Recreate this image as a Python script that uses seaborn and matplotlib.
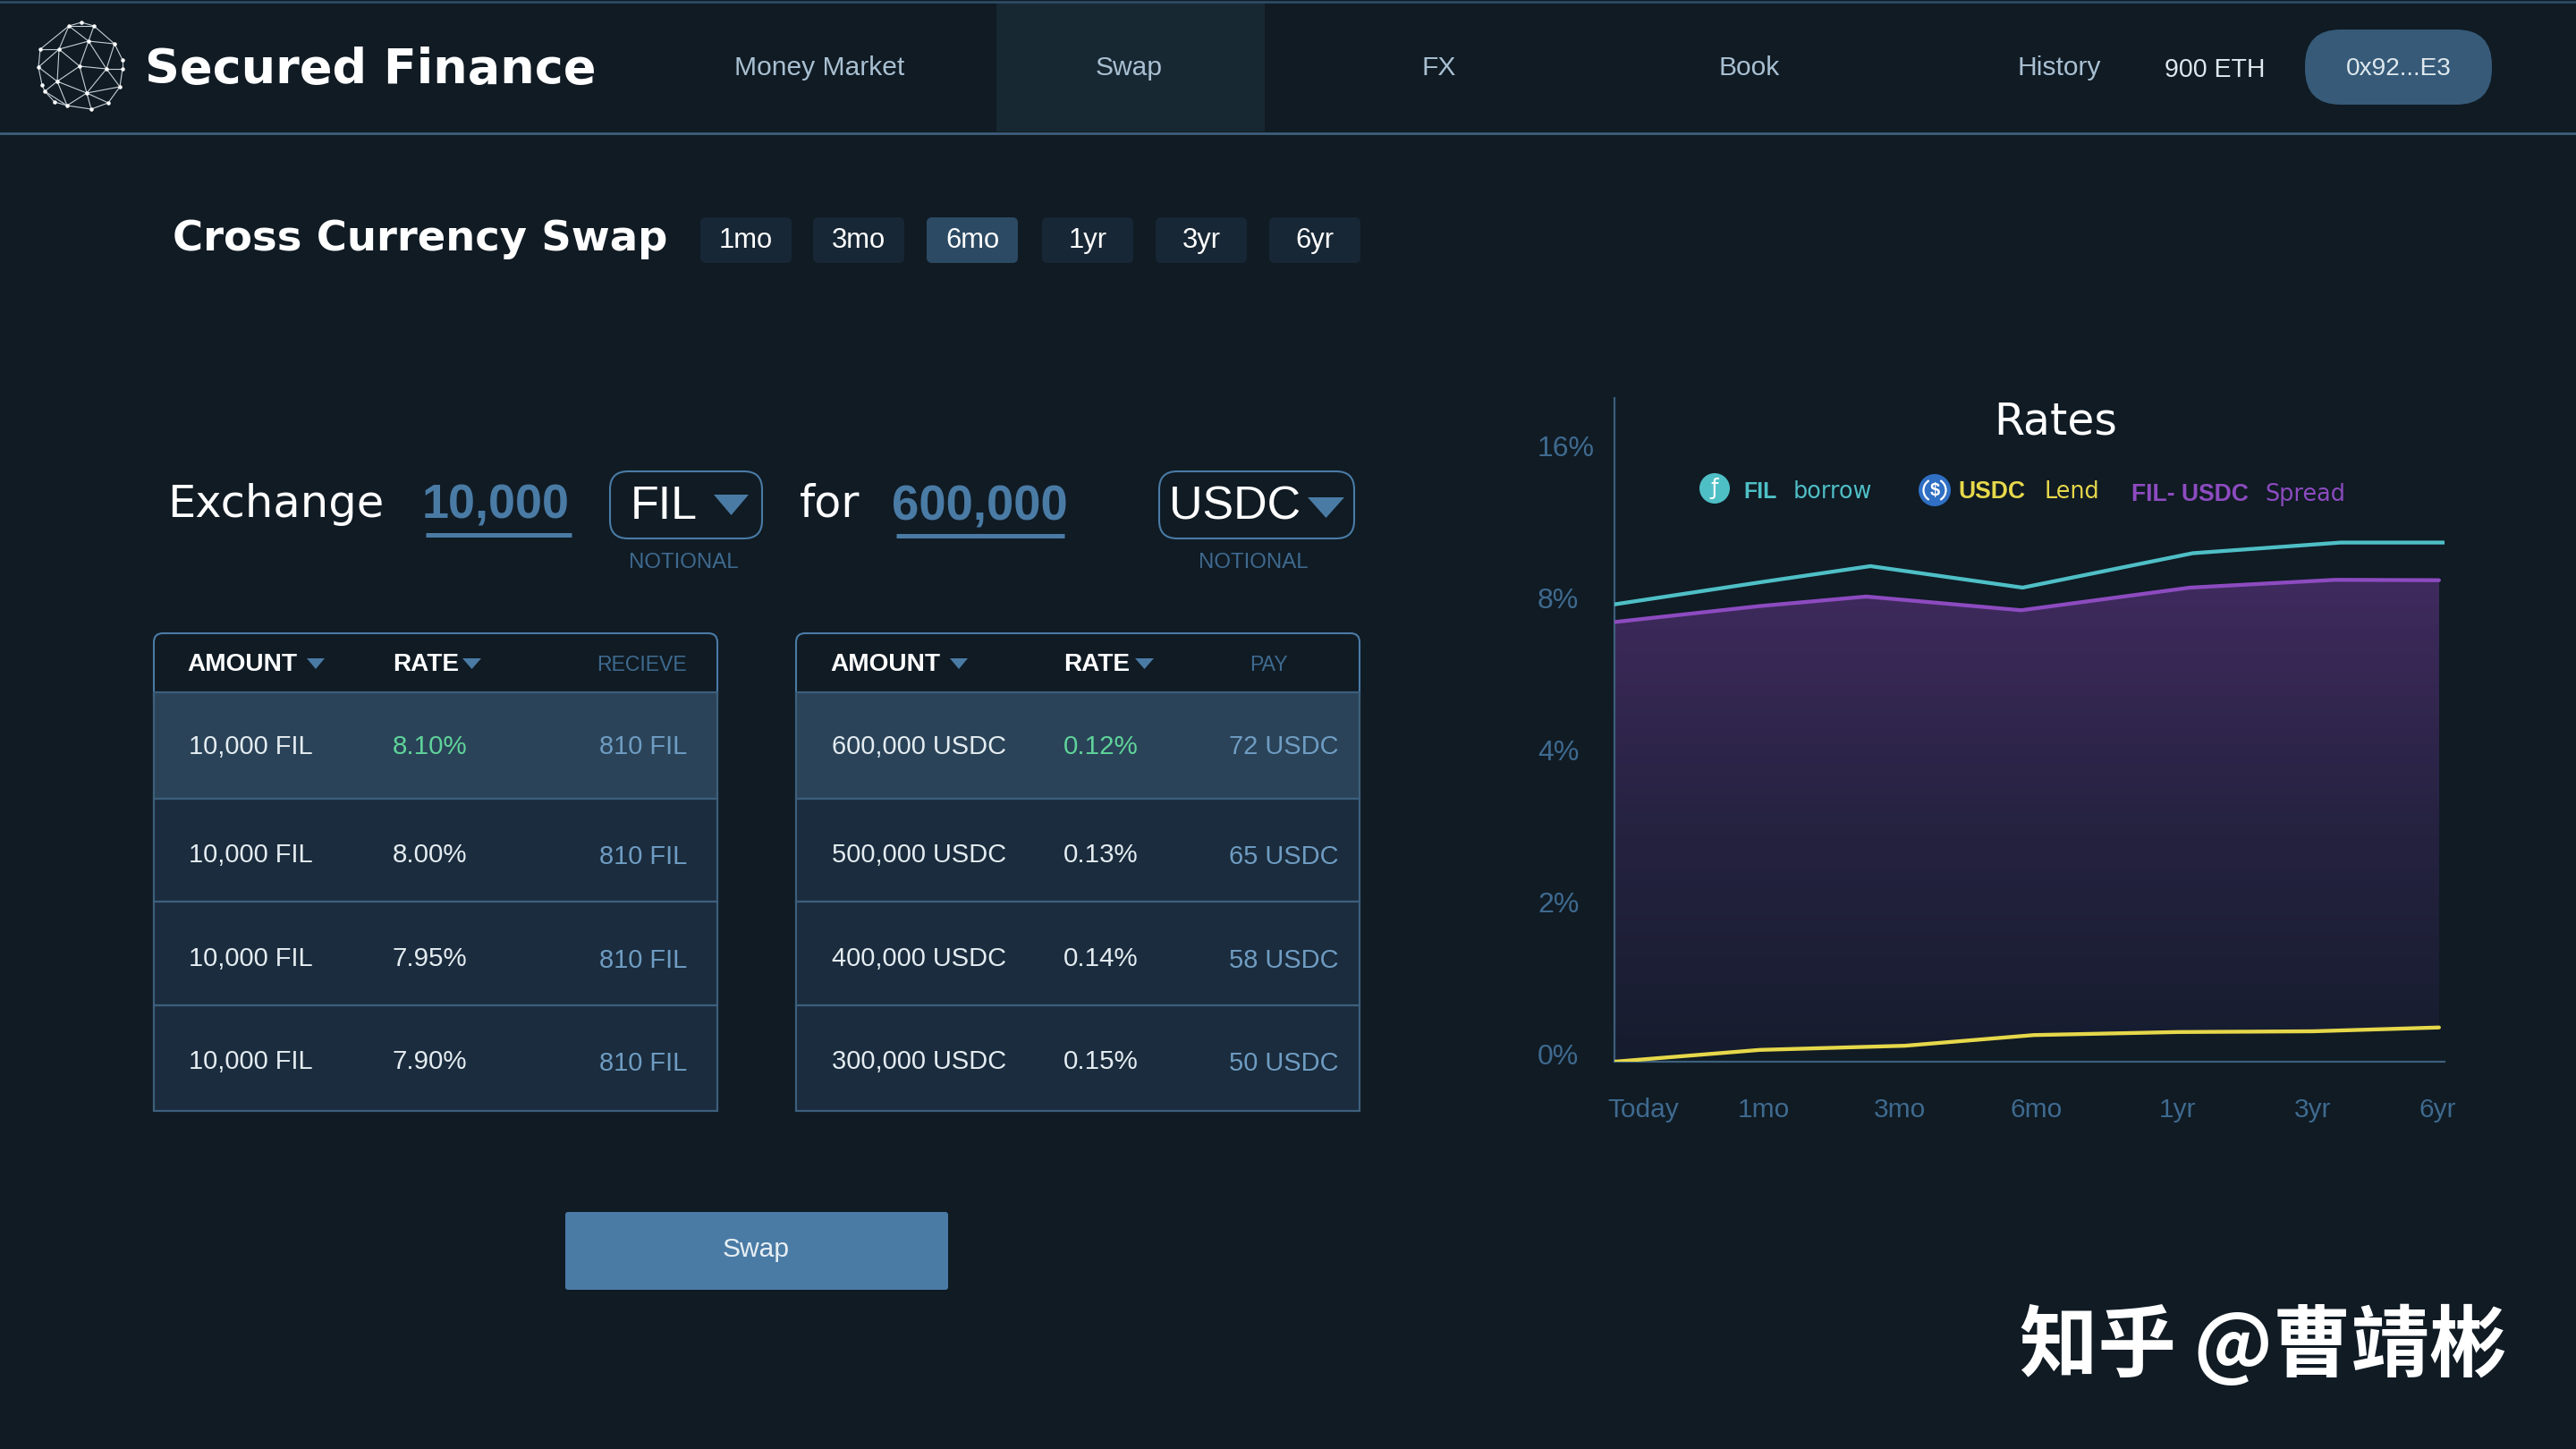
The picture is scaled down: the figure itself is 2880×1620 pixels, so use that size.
import numpy as np
import pandas as pd
import matplotlib
matplotlib.use("Agg")
import matplotlib.pyplot as plt
import seaborn as sns
from matplotlib.colors import LinearSegmentedColormap
from matplotlib.patches import Circle, FancyBboxPatch, Polygon, Rectangle, Arc
from matplotlib.transforms import ScaledTranslation

# rates (%), x is position along the tenor axis
fil_x = [0, 1.08, 1.85, 2.95, 4.18, 5.25, 6.0]
fil_borrow = [8.05, 9.24, 10.06, 8.93, 10.74, 11.3, 11.3]
spread_x = [0, 1.05, 1.82, 2.94, 4.16, 5.21, 5.96]
spread = [7.56, 7.98, 8.46, 7.87, 8.93, 9.34, 9.32]
usdc_x = [0, 1.05, 2.1, 3.03, 4.07, 5.05, 5.96]
usdc_lend = [0.0, 0.155, 0.21, 0.35, 0.39, 0.40, 0.45]

tenor_ticks = [0.21, 1.08, 2.06, 3.05, 4.07, 5.05, 5.95]
tenor_labels = ["Today", "1mo", "3mo", "6mo", "1yr", "3yr", "6yr"]
rate_ticks = [0, 2, 4, 8, 16]
rate_labels = ["0%", "2%", "4%", "8%", "16%"]

nav_items = ["Money Market", "Swap", "FX", "Book", "History"]
periods = ["1mo", "3mo", "6mo", "1yr", "3yr", "6yr"]

left_amount = ["10,000 FIL", "10,000 FIL", "10,000 FIL", "10,000 FIL"]
left_rate = ["8.10%", "8.00%", "7.95%", "7.90%"]
left_recv = ["810 FIL", "810 FIL", "810 FIL", "810 FIL"]
right_amount = ["600,000 USDC", "500,000 USDC", "400,000 USDC", "300,000 USDC"]
right_rate = ["0.12%", "0.13%", "0.14%", "0.15%"]
right_pay = ["72 USDC", "65 USDC", "58 USDC", "50 USDC"]

BG = "#101b24"
BLUE = "#4a7ba5"
DIM = "#3f6a8f"
LINE = "#3d5f7c"
TEAL = "#4fbfc6"
PURPLE = "#8d4bc0"
YELLOW = "#e6d84a"
GREEN = "#5fd39a"
SOFT = "#a9c0d2"

sns.set_theme(style="dark")
plt.rcParams["font.family"] = ["Liberation Sans", "DejaVu Sans"]

fig = plt.figure(figsize=(28.8, 16.2), dpi=100, facecolor=BG)

# whole page, in pixels
ui = fig.add_axes([0, 0, 1, 1])
ui.set_xlim(0, 2880)
ui.set_ylim(1620, 0)
ui.axis("off")


def label(x, y, s, px, color="white", ha="center", weight="normal", family=None):
    kw = {"family": family} if family else {}
    # va center sits a little high against the reference text
    return ui.text(x, y + 3, s, fontsize=px * 0.72, color=color, ha=ha, va="center",
                   weight=weight, **kw)


def box(x0, y0, x1, y1, face, edge="none", lw=0, round_px=0):
    if round_px:
        p = FancyBboxPatch((x0, y0), x1 - x0, y1 - y0,
                           boxstyle=f"round,pad=0,rounding_size={round_px}",
                           facecolor=face, edgecolor=edge, linewidth=lw)
    else:
        p = Rectangle((x0, y0), x1 - x0, y1 - y0, facecolor=face, edgecolor=edge, linewidth=lw)
    ui.add_patch(p)


def tri(x0, x1, y0, y1, color=BLUE):
    ui.add_patch(Polygon([(x0, y0), (x1, y0), ((x0 + x1) / 2, y1)], facecolor=color, edgecolor="none"))


# header
ui.plot([0, 2880], [2, 2], color="#2c4a63", lw=2)
box(1114, 3, 1414, 147, "#182833")
ui.plot([0, 2880], [149, 149], color=LINE, lw=2)

# logo
nodes = [(91, 25), (77, 29), (105, 29), (66, 55), (99, 46), (128, 49), (137, 67), (137, 77),
         (89, 74), (119, 77), (43, 75), (64, 91), (50, 102), (97, 104), (134, 97), (75, 118),
         (102, 122), (121, 115), (61, 114), (45, 55), (47, 95)]
edges = [(0, 1), (0, 2), (1, 2), (1, 3), (2, 4), (1, 4), (4, 5), (2, 5), (5, 6), (6, 7), (3, 4), (3, 8),
         (4, 8), (4, 9), (8, 9), (9, 7), (5, 9), (3, 10), (1, 19), (19, 10), (10, 20), (20, 12), (8, 11),
         (11, 10), (11, 12), (11, 13), (8, 13), (9, 13), (13, 14), (7, 14), (14, 17), (13, 17), (13, 16),
         (16, 17), (15, 16), (12, 15), (18, 15), (12, 18), (11, 15), (13, 15), (3, 19), (3, 11), (9, 14)]
for a, b in edges:
    ui.plot([nodes[a][0], nodes[b][0]], [nodes[a][1], nodes[b][1]], color="#c5cfd6", lw=0.8)
ui.scatter([n[0] for n in nodes], [n[1] for n in nodes], s=5, color="white", zorder=3)

label(162, 75, "Secured Finance", 54, ha="left", weight="bold", family="DejaVu Sans")

for cx, s in zip([916, 1262, 1609, 1956, 2302], nav_items):
    label(cx, 73, s, 30, SOFT)
label(2476, 75, "900 ETH", 28.5, "#dfe8ee")
box(2577, 33, 2786, 117, "#365a78", round_px=40)
label(2682, 74, "0x92...E3", 28, "#dfe8ee")

# title row
label(193, 265, "Cross Currency Swap", 46.5, ha="left", weight="bold", family="DejaVu Sans")
for cx, s in zip([834, 960, 1087, 1216, 1343, 1470], periods):
    box(cx - 51, 243, cx + 51, 294, "#2c4a63" if s == "6mo" else "#172736", round_px=6)
    label(cx, 266, s, 31)

# exchange row
label(187, 561, "Exchange", 49.5, ha="left", family="DejaVu Sans")
label(472, 562, "10,000", 54, BLUE, ha="left", weight="bold")
ui.plot([476, 639], [598, 598], color=BLUE, lw=3.6, solid_capstyle="butt")
box(682, 527, 852, 602, "none", BLUE, 1.5, round_px=20)
label(705, 564, "FIL", 52, ha="left")
tri(798, 837, 553, 576)
label(894, 560, "for", 49, ha="left", family="DejaVu Sans")
label(997, 565, "600,000", 54.5, BLUE, ha="left", weight="bold")
ui.plot([1002, 1190], [599, 599], color=BLUE, lw=3.6, solid_capstyle="butt")
box(1296, 527, 1514, 602, "none", BLUE, 1.5, round_px=20)
label(1307, 564, "USDC", 52, ha="left")
tri(1462, 1503, 556, 579)
label(764, 626, "NOTIONAL", 24, DIM)
label(1401, 626, "NOTIONAL", 24, DIM)

# the two quote tables
row_edges = [774, 893, 1008, 1124, 1242]
row_mids = [832, 953, 1069, 1184]
tables = [
    (172, 802, 209, 439, 768, left_amount, left_rate, left_recv, (343, 363), (517, 538)),
    (890, 1520, 928, 1189, 1497, right_amount, right_rate, right_pay, (1062, 1082), (1269, 1290)),
]
for x0, x1, xa, xr, xp, amounts, rates, pays, tri_a, tri_r in tables:
    box(x0, 708, x1, 790, BG, BLUE, 1.5, round_px=10)
    for i in range(4):
        box(x0, row_edges[i], x1, row_edges[i + 1], "#2a4358" if i == 0 else "#1a2c3d", LINE, 1.6)
        label(xa + 2, row_mids[i], amounts[i], 29, "#e4ecf1", ha="left")
        label(xr, row_mids[i], rates[i], 29.5, GREEN if i == 0 else "#e4ecf1", ha="left")
        label(xp, row_mids[i] + (2 if i else 0), pays[i], 29, "#6f9cc2", ha="right")
    label(xa, 740, "AMOUNT", 28, ha="left", weight="bold")
    label(xr, 740, "RATE", 28, ha="left", weight="bold")
    tri(tri_a[0], tri_a[1], 736, 748)
    tri(tri_r[0], tri_r[1], 736, 748)
label(768, 740, "RECIEVE", 23, DIM, ha="right")
label(1418, 740, "PAY", 23, DIM)

# swap button
box(632, 1355, 1060, 1442, BLUE, round_px=3)
label(845, 1394, "Swap", 30, "#e8eff4")

# rates chart, the y axis doubles at every gridstep
ax = fig.add_axes([1805 / 2880, (1620 - 1187) / 1620, 928 / 2880, 742 / 1620])
ax.patch.set_alpha(0)
y_vals = [0, 2, 4, 8, 16, 32]
y_pos = [0, 1, 2, 3, 4, 5]
ax.set_yscale("function", functions=(lambda v: np.interp(v, y_vals, y_pos),
                                     lambda p: np.interp(p, y_pos, y_vals)))

df_fil = pd.DataFrame({"tenor": fil_x, "rate": fil_borrow})
df_spread = pd.DataFrame({"tenor": spread_x, "rate": spread})
df_usdc = pd.DataFrame({"tenor": usdc_x, "rate": usdc_lend})

# gradient under the spread line, clipped to the band between the two series
grad = LinearSegmentedColormap.from_list("band", ["#151c2d", "#262241", "#3f2a5e"])
band_y = np.interp(np.linspace(0, 3.2, 81), y_pos, y_vals)
mesh = ax.pcolormesh([0, 6], band_y, np.linspace(0, 1, 80).reshape(-1, 1), cmap=grad, shading="flat", zorder=1)
outline = list(zip(spread_x, spread)) + list(zip(usdc_x, usdc_lend))[::-1]
band = Polygon(outline, closed=True, transform=ax.transData, facecolor="none", edgecolor="none")
ax.add_patch(band)
mesh.set_clip_path(band)

sns.lineplot(data=df_fil, x="tenor", y="rate", color=TEAL, linewidth=3.1, ax=ax, zorder=3, estimator=None)
sns.lineplot(data=df_spread, x="tenor", y="rate", color=PURPLE, linewidth=3.1, ax=ax, zorder=3, estimator=None)
sns.lineplot(data=df_usdc, x="tenor", y="rate", color=YELLOW, linewidth=3.1, ax=ax, zorder=4, estimator=None)

ax.set_xlim(0, 6)
ax.set_ylim(0, 21.8)
ax.set_xlabel("")
ax.set_ylabel("")
ax.grid(False)
for side in ["top", "right"]:
    ax.spines[side].set_visible(False)
for side in ["left", "bottom"]:
    ax.spines[side].set_color(LINE)
    ax.spines[side].set_linewidth(1.6)
ax.set_xticks(tenor_ticks, tenor_labels)
ax.set_yticks(rate_ticks, rate_labels)
ax.minorticks_off()
ax.tick_params(axis="x", length=0, pad=29, labelsize=21.5, labelcolor=DIM)
ax.tick_params(axis="y", length=0, pad=62, labelsize=23, labelcolor=DIM)
lift = ScaledTranslation(0, 8 / 100, fig.dpi_scale_trans)
for t in ax.get_yticklabels():
    t.set_ha("left")
    t.set_transform(t.get_transform() + lift)

# chart title and legend, drawn on the page axes
ui.set_zorder(0)
ax.set_zorder(1)
label(2298, 468, "Rates", 49, family="DejaVu Sans")

ui.add_patch(Circle((1917, 546), 17, facecolor=TEAL, edgecolor="none"))
label(1917, 543, "ƒ", 24, "white", family="DejaVu Sans")
label(1949, 547, "FIL", 25, TEAL, ha="left", weight="bold")
label(2005, 547, "borrow", 25.5, TEAL, ha="left", family="DejaVu Sans")
ui.add_patch(Circle((2163, 548), 18, facecolor="#2f6fc4", edgecolor="none"))
ui.add_patch(Arc((2163, 548), 25, 25, theta1=120, theta2=240, color="white", lw=1.6))
ui.add_patch(Arc((2163, 548), 25, 25, theta1=-60, theta2=60, color="white", lw=1.6))
label(2163, 545, "$", 20, "white", weight="bold")
label(2189, 547, "USDC", 26.5, YELLOW, ha="left", weight="bold")
label(2285, 547, "Lend", 25.5, YELLOW, ha="left", family="DejaVu Sans")
label(2383, 550, "FIL- USDC", 26.5, PURPLE, ha="left", weight="bold")
label(2532, 550, "Spread", 25.5, PURPLE, ha="left", family="DejaVu Sans")

# watermark
ui.text(2803, 1505, "知乎 @曹靖彬", fontsize=63, color="white", ha="right", va="center",
        family=["Noto Sans CJK SC", "DejaVu Sans"], weight="bold", zorder=5)

fig.savefig("out.png", dpi=100, facecolor=BG)
